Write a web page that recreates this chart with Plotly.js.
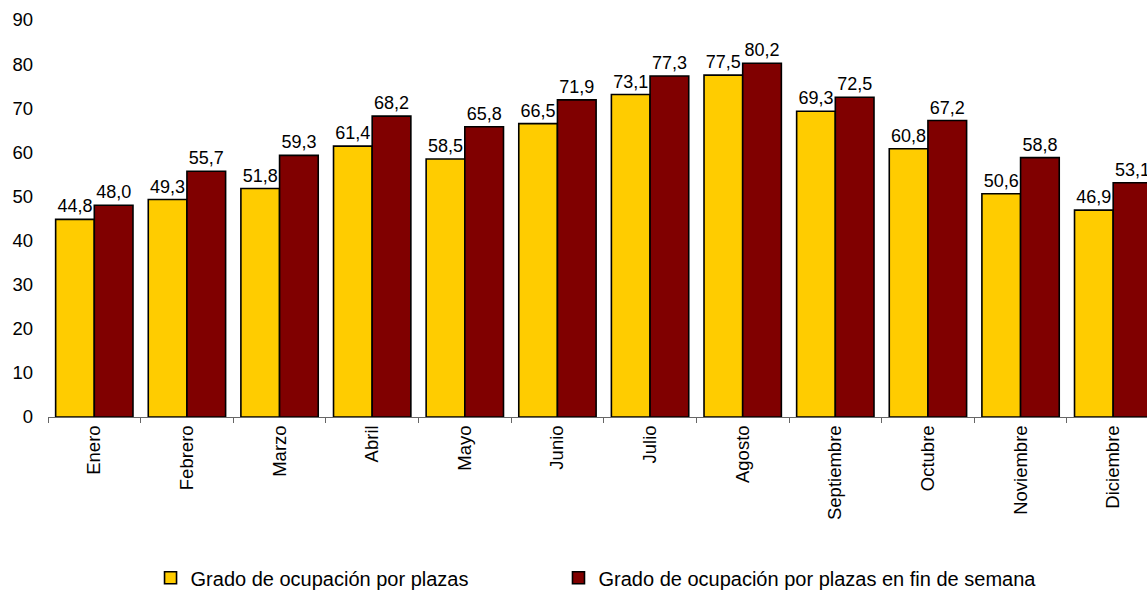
<!DOCTYPE html>
<html>
<head>
<meta charset="utf-8">
<script src="https://cdn.plot.ly/plotly-3.0.1.min.js"></script>
<style>html,body{margin:0;padding:0;background:#fff;}#chart{width:1147px;height:590px;}</style>
</head>
<body>
<div id="chart"></div>
<script>
const months = ["Enero","Febrero","Marzo","Abril","Mayo","Junio","Julio","Agosto","Septiembre","Octubre","Noviembre","Diciembre"];
const plazas = [44.8, 49.3, 51.8, 61.4, 58.5, 66.5, 73.1, 77.5, 69.3, 60.8, 50.6, 46.9];
const plazasFinSemana = [48.0, 55.7, 59.3, 68.2, 65.8, 71.9, 77.3, 80.2, 72.5, 67.2, 58.8, 53.1];
const seriesNames = ["Grado de ocupación por plazas", "Grado de ocupación por plazas en fin de semana"];
const yTicks = [0,10,20,30,40,50,60,70,80,90];

const FONT = "Liberation Sans, Arial, sans-serif";

const common = {
  type: 'bar',
  x: months,
  texttemplate: '%{y:.1f}',
  textposition: 'outside',
  constraintext: 'none',
  cliponaxis: false,
  textfont: {family: FONT, size: 18, color: '#000'},
  hoverinfo: 'skip'
};

const data = [
  Object.assign({}, common, {
    y: plazas, name: seriesNames[0], legend: 'legend',
    marker: {color: '#FFCC00', line: {color: '#000', width: 1.6}}
  }),
  Object.assign({}, common, {
    y: plazasFinSemana, name: seriesNames[1], legend: 'legend2',
    marker: {color: '#800000', line: {color: '#000', width: 1.6}}
  })
];

const legendStyle = {
  orientation: 'h',
  xanchor: 'left',
  y: -0.405, yanchor: 'middle',
  font: {family: FONT, size: 20, color: '#000'},
  bgcolor: 'rgba(0,0,0,0)'
};

const layout = {
  width: 1147, height: 590,
  margin: {l: 48, r: 0, t: 20, b: 173, autoexpand: false},
  paper_bgcolor: '#fff', plot_bgcolor: '#fff',
  separators: ',.',
  barmode: 'group',
  bargap: 0.165,
  bargroupgap: 0,
  font: {family: FONT, size: 18, color: '#000'},
  xaxis: {
    type: 'category',
    range: [-0.5, 11.365],
    tickson: 'boundaries',
    ticks: 'outside', ticklen: 5, tickcolor: '#666', tickwidth: 1,
    showline: true, linecolor: '#666', linewidth: 1,
    tickangle: -90,
    automargin: false,
    tickfont: {family: FONT, size: 18.5, color: '#000'},
    showgrid: false, zeroline: false
  },
  yaxis: {
    range: [0, 90],
    tickvals: yTicks,
    ticks: '', showline: false, showgrid: false, zeroline: false,
    automargin: false,
    ticklabelstandoff: 14,
    tickfont: {family: FONT, size: 18.5, color: '#000'}
  },
  showlegend: true,
  legend: Object.assign({}, legendStyle, {x: 0.0933}),
  legend2: Object.assign({}, legendStyle, {x: 0.4645})
};

Plotly.newPlot('chart', data, layout, {displayModeBar: false, staticPlot: true});
</script>
</body>
</html>
